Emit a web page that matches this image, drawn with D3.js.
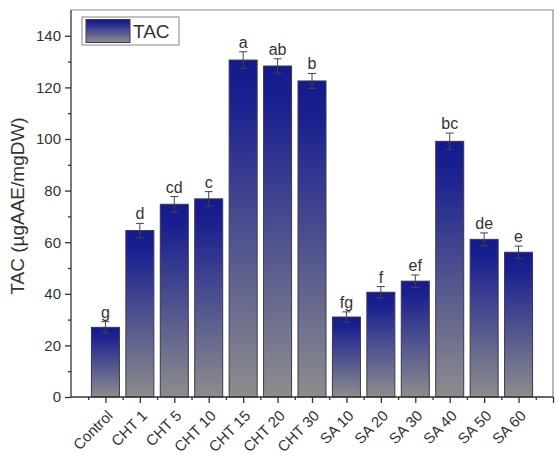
<!DOCTYPE html>
<html>
<head>
<meta charset="utf-8">
<script src="https://cdn.jsdelivr.net/npm/d3@7"></script>
<style>
  body { margin: 0; background: #fff; }
  text { font-family: "Liberation Sans", Arial, sans-serif; fill: #333; }
</style>
</head>
<body>
<div class="canvas"></div>
<script>
const w = 556;
const h = 457;

// data
const categories = ["Control", "CHT 1", "CHT 5", "CHT 10", "CHT 15", "CHT 20", "CHT 30",
  "SA 10", "SA 20", "SA 30", "SA 40", "SA 50", "SA 60"];
const tacValues = [27, 64.5, 74.7, 76.8, 130.6, 128.3, 122.5, 31, 40.6, 44.9, 99.1, 61.1, 56.1];
const tacErrors = [2.2, 2.8, 3, 2.8, 3.2, 2.8, 2.9, 2, 2.2, 2.4, 3.2, 2.5, 2.4];
const letters = ["g", "d", "cd", "c", "a", "ab", "b", "fg", "f", "ef", "bc", "de", "e"];
const yTicks = [0, 20, 40, 60, 80, 100, 120, 140];

const margin = { top: 10, right: 3, bottom: 60, left: 71 };
const graphWidth = w - margin.left - margin.right;
const graphHeight = h - margin.top - margin.bottom;

const svg = d3.select(".canvas").append("svg").attr("width", w).attr("height", h);

// gradient: navy at the top of each bar, grey at the bottom
const grad = svg.append("defs").append("linearGradient")
  .attr("id", "barGrad")
  .attr("x1", 0).attr("y1", 0).attr("x2", 0).attr("y2", 1);
grad.append("stop").attr("offset", "0%").attr("stop-color", "#141a8c");
grad.append("stop").attr("offset", "12%").attr("stop-color", "#1b2090");
grad.append("stop").attr("offset", "100%").attr("stop-color", "#8d8d8d");

const graph = svg.append("g").attr("transform", `translate(${margin.left}, ${margin.top})`);

const x = d3.scaleLinear().domain([0, 14]).range([0, graphWidth]);
const y = d3.scaleLinear().domain([0, 150]).range([graphHeight, 0]);
const barW = 28;

// frame (top and right)
graph.append("path")
  .attr("d", `M0,0H${graphWidth}V${graphHeight}`)
  .attr("fill", "none").attr("stroke", "#8a8a8a").attr("stroke-width", 1.2);

// bars
graph.selectAll("rect.bar")
  .data(tacValues)
  .enter()
  .append("rect")
  .attr("class", "bar")
  .attr("x", (d, i) => x(i + 1) - barW / 2)
  .attr("y", d => y(d))
  .attr("width", barW)
  .attr("height", d => graphHeight - y(d))
  .attr("fill", "url(#barGrad)")
  .attr("stroke", "#3a3a4a")
  .attr("stroke-width", 1);

// error bars
const err = graph.selectAll("g.err")
  .data(tacValues)
  .enter()
  .append("g")
  .attr("class", "err")
  .attr("stroke", "#444")
  .attr("stroke-width", 1);
err.append("line")
  .attr("x1", (d, i) => x(i + 1)).attr("x2", (d, i) => x(i + 1))
  .attr("y1", (d, i) => y(d - tacErrors[i])).attr("y2", (d, i) => y(d + tacErrors[i]));
err.append("line")
  .attr("x1", (d, i) => x(i + 1) - 4).attr("x2", (d, i) => x(i + 1) + 4)
  .attr("y1", (d, i) => y(d + tacErrors[i])).attr("y2", (d, i) => y(d + tacErrors[i]));
err.append("line")
  .attr("x1", (d, i) => x(i + 1) - 4).attr("x2", (d, i) => x(i + 1) + 4)
  .attr("y1", (d, i) => y(d - tacErrors[i])).attr("y2", (d, i) => y(d - tacErrors[i]));

// significance letters
graph.selectAll("text.letter")
  .data(letters)
  .enter()
  .append("text")
  .attr("class", "letter")
  .attr("x", (d, i) => x(i + 1))
  .attr("y", (d, i) => y(tacValues[i] + tacErrors[i]) - 4)
  .attr("text-anchor", "middle")
  .style("font-size", "16px")
  .text(d => d);

// y axis
const yAxis = d3.axisLeft(y).tickValues(yTicks).tickSize(6).tickPadding(4);
const yG = graph.append("g").attr("id", "y-axis").call(yAxis);
yG.select(".domain").attr("d", `M0,0V${graphHeight}`).attr("stroke", "#333").attr("stroke-width", 1.3);
yG.selectAll("text").style("font-size", "15px").attr("fill", "#333");
yG.selectAll("line").attr("stroke", "#333").attr("stroke-width", 1.3);
graph.append("g")
  .call(d3.axisLeft(y).tickValues(d3.range(10, 150, 20)).tickSize(3).tickFormat(""))
  .call(g => g.select(".domain").remove())
  .selectAll("line").attr("stroke", "#333").attr("stroke-width", 1.3);

// x axis
const xAxis = d3.axisBottom(x)
  .tickValues(d3.range(1, 15))
  .tickSize(6)
  .tickFormat(d => categories[d - 1] || "");
const xG = graph.append("g").attr("id", "x-axis")
  .attr("transform", `translate(0, ${graphHeight})`)
  .call(xAxis);
xG.select(".domain").attr("d", `M0,0H${graphWidth}`).attr("stroke", "#333").attr("stroke-width", 1.3);
xG.selectAll("line").attr("stroke", "#333").attr("stroke-width", 1.3);
xG.selectAll("text")
  .style("font-size", "15px")
  .attr("fill", "#333")
  .attr("text-anchor", "end")
  .attr("dy", "0.35em")
  .attr("transform", "translate(4, 16) rotate(-45)")
  .attr("y", 0).attr("x", 0);
graph.append("g")
  .attr("transform", `translate(0, ${graphHeight})`)
  .call(d3.axisBottom(x).tickValues(d3.range(0.5, 14, 1)).tickSize(3).tickFormat(""))
  .call(g => g.select(".domain").remove())
  .selectAll("line").attr("stroke", "#333").attr("stroke-width", 1.3);

// y label
svg.append("text")
  .attr("transform", `translate(24, 206) rotate(-90)`)
  .attr("text-anchor", "middle")
  .style("font-size", "19px")
  .text("TAC (µgAAE/mgDW)");

// legend
const legend = svg.append("g").attr("transform", "translate(82, 17)");
legend.append("rect")
  .attr("width", 97).attr("height", 28)
  .attr("fill", "#fff").attr("stroke", "#999").attr("stroke-width", 1.2);
legend.append("rect")
  .attr("x", 4).attr("y", 2.5).attr("width", 44).attr("height", 23)
  .attr("fill", "url(#barGrad)").attr("stroke", "#3a3a4a");
legend.append("text")
  .attr("x", 51).attr("y", 21)
  .style("font-size", "19px")
  .text("TAC");
</script>
</body>
</html>
